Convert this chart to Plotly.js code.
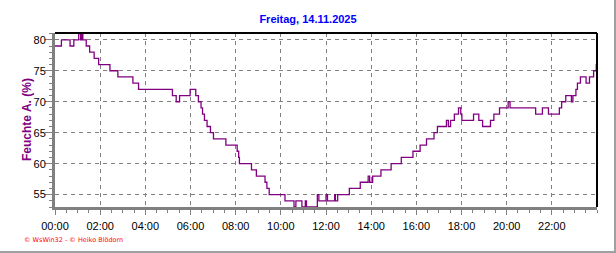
<!DOCTYPE html>
<html>
<head>
<meta charset="utf-8">
<script src="https://cdn.plot.ly/plotly-3.0.1.min.js"></script>
<style>
  html, body { margin: 0; padding: 0; background: #ffffff; }
  #frame { position: relative; width: 614px; height: 251px; border-right: 2px solid #a0a0a0; border-bottom: 2px solid #a0a0a0; overflow: hidden; }
  #chart { position: absolute; left: 0; top: 0; width: 616px; height: 253px; }
</style>
</head>
<body>
<div id="frame"><div id="chart"></div></div>
<script>
// Change points of relative humidity (value holds until next time)
const times = [
  "00:00","00:17","00:40","00:50","01:03","01:08","01:11","01:14","01:23","01:32",
  "01:44","01:56","02:26","02:47","03:27","03:42","05:12","05:22","05:31","05:59",
  "06:14","06:21","06:28","06:32","06:37","06:44","06:53","07:01","07:34","08:04",
  "08:08","08:10","08:42","08:55","09:18","09:23","09:29","10:11","10:35","10:40",
  "10:56","11:05","11:08","11:37","11:41","12:00","12:04","12:23","12:25","12:31",
  "13:02","13:31","13:52","13:56","14:04","14:26","14:53","15:20","15:51","16:10",
  "16:27","16:47","16:56","17:20","17:25","17:31","17:41","17:52","17:58","18:01",
  "18:32","18:46","18:56","19:17","19:26","19:41","20:04","20:09","21:17","21:35",
  "21:51","22:20","22:26","22:37","22:52","22:56","23:04","23:08","23:16","23:31",
  "23:40","23:51","23:58","24:00"
];
const humidity = [
  79,80,79,80,81,80,81,80,79,78,
  77,76,75,74,73,72,71,70,71,72,
  71,70,69,68,67,66,65,64,63,62,
  61,60,59,58,57,56,55,54,53,54,
  53,54,53,55,54,55,54,55,54,55,
  56,57,58,57,58,59,60,61,62,63,
  64,65,66,67,66,67,68,69,68,67,
  68,67,66,67,68,69,70,69,68,69,
  68,69,70,71,70,71,72,73,74,73,
  74,75,76,76
];
const xTickLabels = ["00:00","02:00","04:00","06:00","08:00","10:00","12:00","14:00","16:00","18:00","20:00","22:00"];
const yTicks = [55, 60, 65, 70, 75, 80];
const titleText = "Freitag, 14.11.2025";
const yTitle = "Feuchte A. (%)";
const credit = "© WsWin32 - © Heiko Blödorn";

function toDate(t) {
  if (t === "24:00") return "2025-11-15 00:00";
  return "2025-11-14 " + t;
}

const trace = {
  x: times.map(toDate),
  y: humidity,
  type: "scatter",
  mode: "lines",
  line: { color: "#800080", width: 1.3, shape: "hv" },
  hoverinfo: "skip"
};

const layout = {
  width: 616, height: 253,
  margin: { l: 55, r: 19, t: 33, b: 46, pad: 0 },
  paper_bgcolor: "#ffffff", plot_bgcolor: "#ffffff",
  showlegend: false,
  font: { family: "Liberation Sans, Arial, sans-serif", size: 11, color: "#000000" },
  title: {
    text: titleText,
    font: { family: "Liberation Sans, Arial, sans-serif", size: 11, color: "#0000ff", weight: "bold" },
    x: 0.5, xref: "container", xanchor: "center",
    y: 1 - 19 / 253, yref: "container", yanchor: "middle"
  },
  xaxis: {
    type: "date",
    range: ["2025-11-14 00:00", "2025-11-15 00:00"],
    tickvals: xTickLabels.map(toDate),
    ticktext: xTickLabels,
    ticks: "outside", ticklen: 5, tickwidth: 1, tickcolor: "#808080",
    minor: { dtick: 30 * 60 * 1000, tick0: "2025-11-14 00:00", ticks: "outside", ticklen: 3, tickcolor: "#808080", showgrid: false },
    showgrid: true, gridcolor: "#808080", gridwidth: 1, griddash: "4px,4px",
    showline: true, linecolor: "#808080", linewidth: 3,
    zeroline: false,
    tickfont: { size: 11, color: "#000000" },
    ticklabelstandoff: 2,
    fixedrange: true
  },
  yaxis: {
    range: [53.0, 81.1],
    tickvals: yTicks,
    ticks: "outside", ticklen: 7, tickwidth: 1, tickcolor: "#808080",
    minor: { dtick: 1, ticks: "outside", ticklen: 3, tickcolor: "#808080", showgrid: false },
    showgrid: true, gridcolor: "#808080", gridwidth: 1, griddash: "4px,4px",
    showline: true, linecolor: "#808080", linewidth: 3,
    zeroline: false,
    tickfont: { size: 11, color: "#000000" },
    ticklabelstandoff: -3,
    fixedrange: true
  },
  shapes: [
    { type: "line", xref: "paper", yref: "paper", x0: 0, x1: 1, y0: 1, y1: 1, line: { color: "#000000", width: 2 }, layer: "above" },
    { type: "line", xref: "paper", yref: "paper", x0: 1, x1: 1, y0: 0, y1: 1, line: { color: "#000000", width: 2 }, layer: "above" }
  ],
  annotations: [
    {
      text: yTitle, xref: "paper", yref: "paper",
      x: -28 / 542, y: 0.5, xanchor: "center", yanchor: "middle",
      textangle: -90, showarrow: false,
      font: { family: "Liberation Sans, Arial, sans-serif", size: 12, color: "#800080", weight: "bold" }
    },
    {
      text: credit, xref: "paper", yref: "paper",
      x: -33 / 542, y: -33 / 174, xanchor: "left", yanchor: "middle",
      showarrow: false,
      font: { family: "DejaVu Sans, sans-serif", size: 6.5, color: "#ff0000" }
    }
  ]
};

Plotly.newPlot("chart", [trace], layout, { staticPlot: true, displayModeBar: false });
</script>
</body>
</html>
